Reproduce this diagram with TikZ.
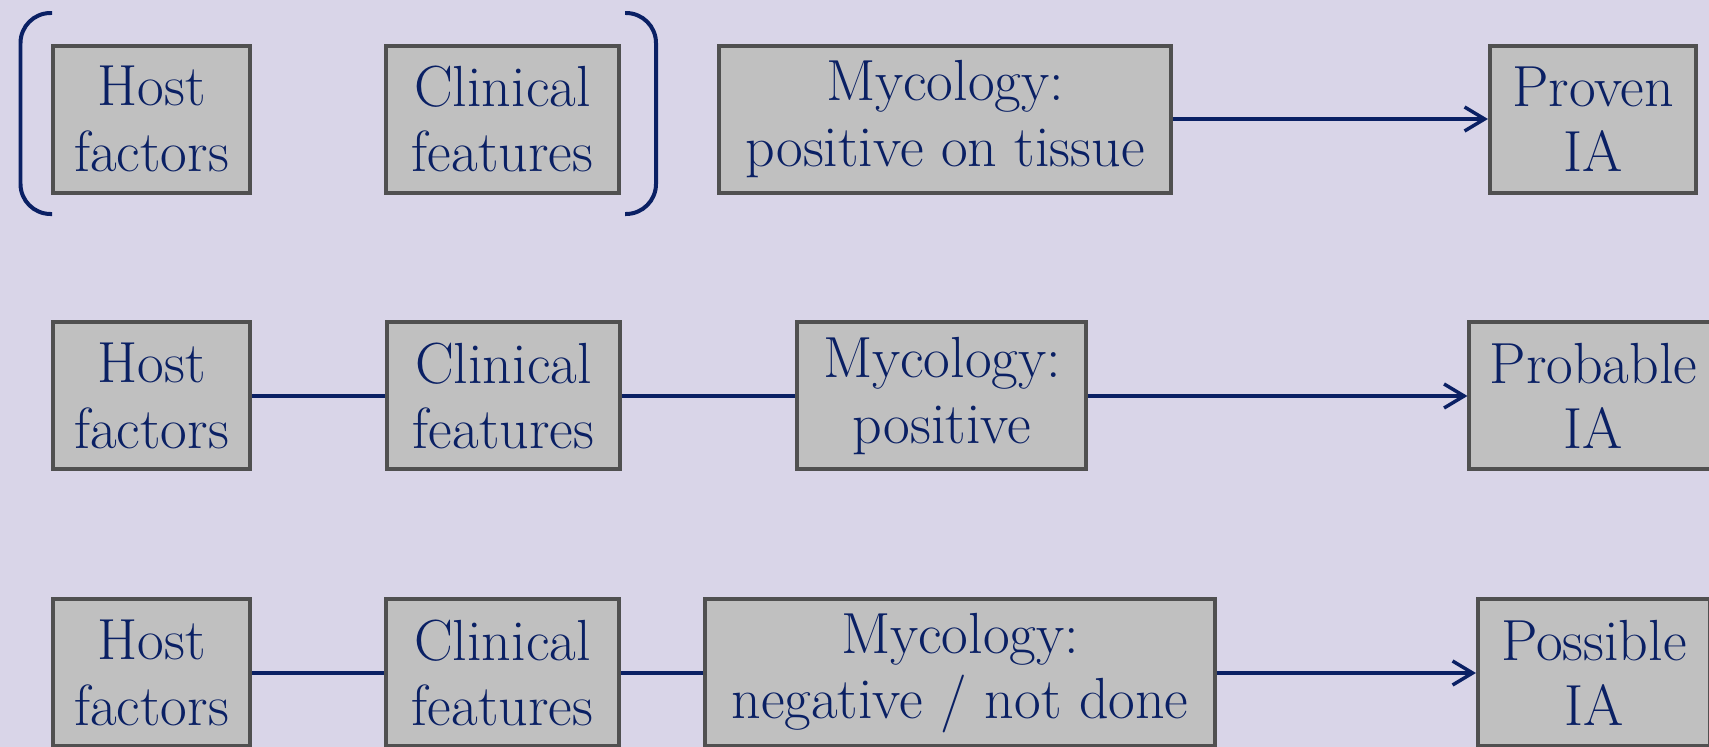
\documentclass[tikz,border=0pt]{standalone}
\usetikzlibrary{arrows.meta, positioning}
\definecolor{bgLav}{HTML}{D9D5E8}
\definecolor{navy}{HTML}{0A2064}
\definecolor{boxGray}{HTML}{C0C0C0}
\definecolor{edgeGray}{HTML}{505050}

\begin{document}
\begin{tikzpicture}[
  x=0.1mm, y=0.1mm,
  >={Straight Barb[length=2mm, width=2.4mm]},
  font=\fontsize{16.5}{18.6}\selectfont, text=navy,
  box/.style     = {draw=edgeGray, fill=boxGray, line width=0.4mm, align=center,
                    minimum height=14.7mm, inner sep=0pt},
  hostbox/.style = {box, minimum width=19.7mm},
  clinbox/.style = {box, minimum width=23.3mm},
  link/.style    = {draw=navy, line width=0.35mm},
  bracket/.style = {draw=navy, line width=0.4mm, rounded corners=3mm},
]
  \useasboundingbox (0,0) rectangle (1709,-747);
  \fill[bgLav] (0,0) rectangle (1709,-747);
  \clip (0,0) rectangle (1709,-747);

  % Proven
  \node[hostbox] (host1) at (151.5,-119) {Host\\factors};
  \node[clinbox, right=13.2mm of host1] (clin1) {Clinical\\features};
  \node[box, minimum width=45.2mm, right=9.6mm of clin1] (myco1) {Mycology:\\positive on tissue};
  \node[box, minimum width=20.6mm, right=31.5mm of myco1] (proven) {Proven\\IA};

  % Probable
  \node[hostbox, below=12.6mm of host1] (host2) {Host\\factors};
  \node[clinbox, right=13.3mm of host2] (clin2) {Clinical\\features};
  \node[box, minimum width=28.9mm, right=17.35mm of clin2] (myco2) {Mycology:\\positive};
  \node[box, minimum width=24.8mm, right=37.9mm of myco2] (probable) {Probable\\IA};

  % Possible
  \node[hostbox, below=12.6mm of host2] (host3) {Host\\factors};
  \node[clinbox, right=13.2mm of host3] (clin3) {Clinical\\features};
  \node[box, minimum width=51mm, right=8.2mm of clin3] (myco3) {Mycology:\\negative / not done};
  \node[box, minimum width=23.2mm, right=25.9mm of myco3] (possible) {Possible\\IA};

  % Brackets round host and clinical of first row
  \draw[bracket] (52,-13) -- (20.5,-13) -- (20.5,-214) -- (52,-214);
  \draw[bracket] (625,-13) -- (656,-13) -- (656,-214) -- (625,-214);

  % Links
  \draw[link, ->] (myco1) -- (proven);
  \draw[link] (host2) -- (clin2);
  \draw[link] (clin2) -- (myco2);
  \draw[link, ->] (myco2) -- (probable);
  \draw[link] (host3) -- (clin3);
  \draw[link] (clin3) -- (myco3);
  \draw[link, ->] (myco3) -- (possible);
\end{tikzpicture}
\end{document}
